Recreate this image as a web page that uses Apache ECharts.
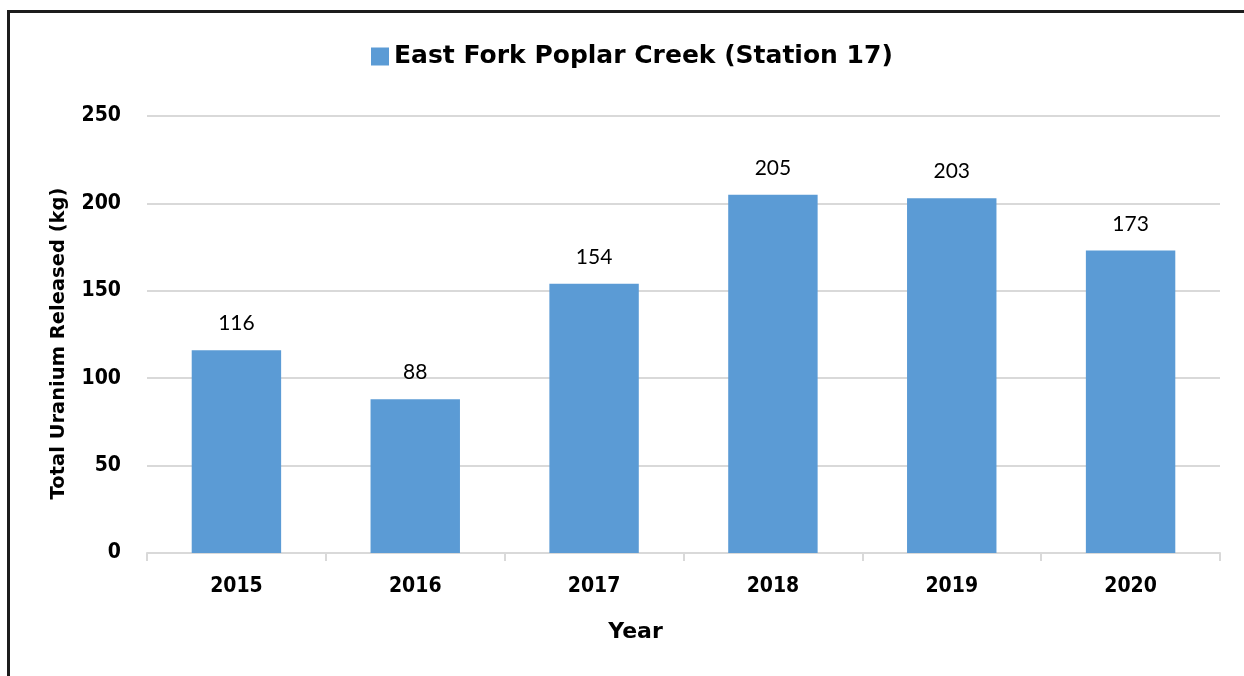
<!DOCTYPE html>
<html>
<head>
<meta charset="utf-8">
<script src="https://cdn.jsdelivr.net/npm/echarts@6/dist/echarts.min.js"></script>
<style>
  html, body { margin: 0; padding: 0; background: #fff; overflow: hidden; }
  #frame { position: absolute; left: 7px; top: 10px; width: 1400px; height: 800px;
           border: 3px solid #1c1c1c; box-sizing: border-box; }
  #chart { position: absolute; left: 0; top: 0; width: 1244px; height: 676px; }
</style>
</head>
<body>
<div id="frame"></div>
<div id="chart"></div>
<script>
// Annual uranium release at East Fork Poplar Creek, Station 17
const years = ['2015', '2016', '2017', '2018', '2019', '2020'];
const uraniumKg = [116, 88, 154, 205, 203, 173];
const seriesName = 'East Fork Poplar Creek (Station 17)';

const headFont = '"DejaVu Sans", Lato, sans-serif';
const tickFont = '"DejaVu Sans Condensed", "Liberation Sans Narrow", sans-serif';
const valueFont = 'Lato, "Open Sans", sans-serif';

const chart = echarts.init(document.getElementById('chart'), null, { renderer: 'canvas' });
chart.setOption({
  animation: false,
  backgroundColor: 'transparent',
  legend: {
    top: 39,
    left: 366,
    itemWidth: 18,
    itemHeight: 18,
    itemGap: 10,
    textStyle: { fontFamily: headFont, fontWeight: 'bold', fontSize: 25, color: '#000' },
    data: [{ name: seriesName, icon: 'rect' }]
  },
  grid: { left: 147, right: 24, top: 116, bottom: 123 },
  xAxis: {
    type: 'category',
    data: years,
    name: 'Year',
    nameLocation: 'middle',
    nameGap: 68,
    nameTextStyle: {
      fontFamily: headFont, fontWeight: 'bold', fontSize: 22, color: '#000',
      padding: [0, 96, 0, 0]
    },
    axisLine: { lineStyle: { color: '#d9d9d9', width: 2 } },
    axisTick: { show: true, length: 8, lineStyle: { color: '#d9d9d9', width: 2 } },
    axisLabel: { fontFamily: tickFont, fontWeight: 'bold', fontSize: 21, color: '#000', margin: 23 }
  },
  yAxis: {
    type: 'value',
    min: 0,
    max: 250,
    interval: 50,
    name: 'Total Uranium Released (kg)',
    nameLocation: 'middle',
    nameGap: 78,
    nameTextStyle: {
      fontFamily: headFont, fontWeight: 'bold', fontSize: 19.5, color: '#000',
      padding: [0, 18, 0, 0]
    },
    axisLine: { show: false },
    axisTick: { show: false },
    splitLine: { lineStyle: { color: '#d9d9d9', width: 2 } },
    axisLabel: { fontFamily: tickFont, fontWeight: 'bold', fontSize: 21, color: '#000', margin: 26 }
  },
  series: [{
    name: seriesName,
    type: 'bar',
    data: uraniumKg,
    barWidth: '50%',
    itemStyle: { color: '#5b9bd5' },
    label: {
      show: true,
      position: 'top',
      distance: 16,
      fontFamily: valueFont,
      fontSize: 21,
      color: '#000'
    }
  }]
});
</script>
</body>
</html>
